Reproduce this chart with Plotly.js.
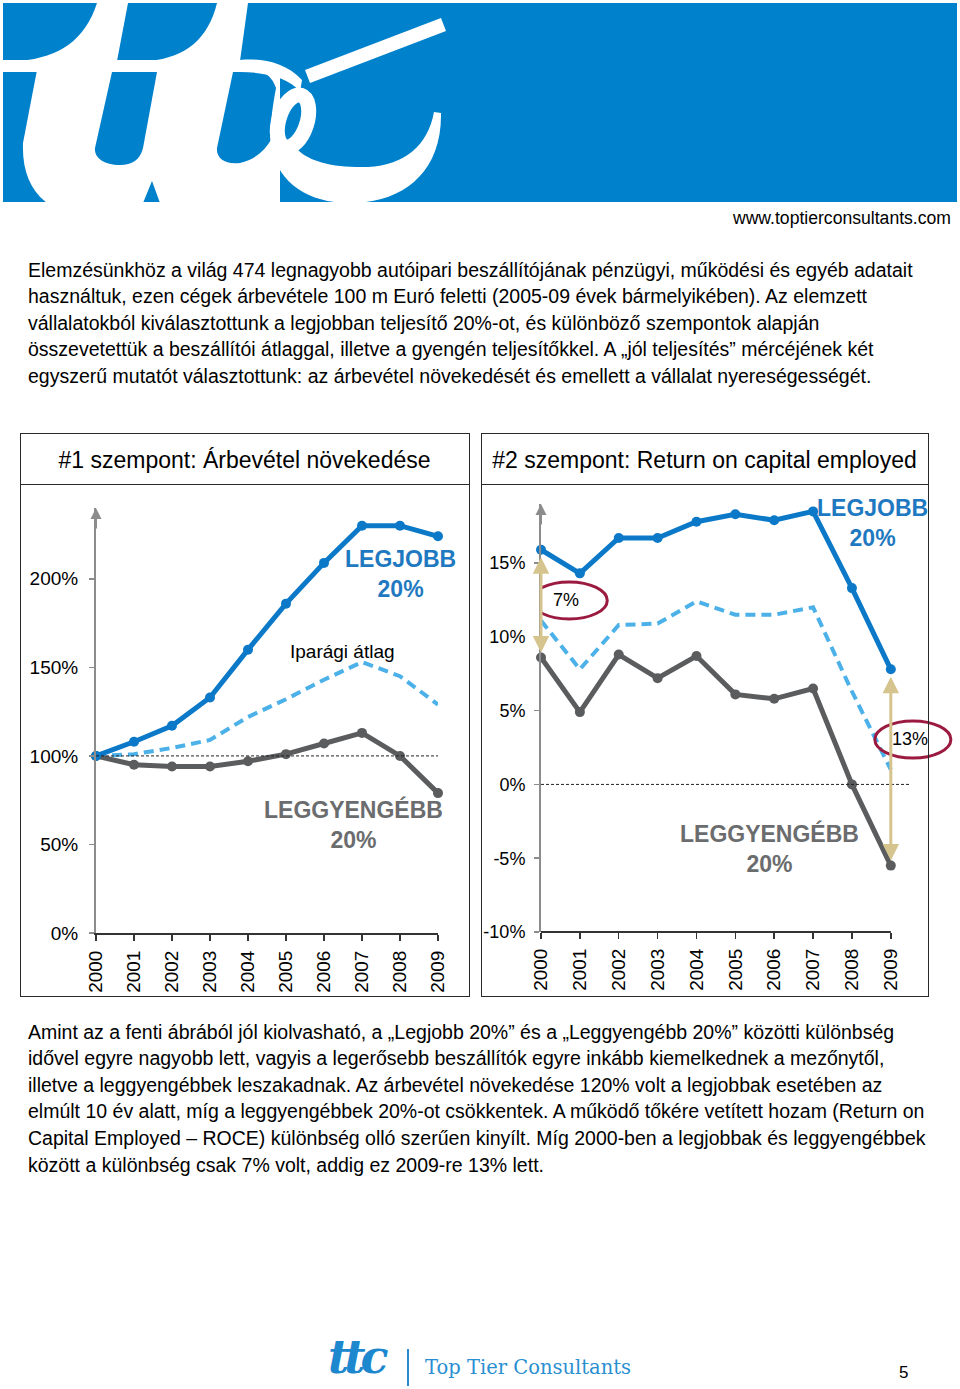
<!DOCTYPE html>
<html>
<head>
<meta charset="utf-8">
<script src="https://cdn.plot.ly/plotly-3.0.1.min.js"></script>
<style>
  html, body { margin:0; padding:0; background:#fff; }
  body { width:960px; height:1389px; position:relative; overflow:hidden; font-family:"Liberation Sans", Arial, sans-serif; color:#000; }
  .abs { position:absolute; }
  .url { right:9px; top:207px; font-size:17.6px; line-height:22px; white-space:nowrap; }
  .para { left:28px; font-size:19.5px; line-height:26.6px; white-space:nowrap; }
  .box { position:absolute; border:1px solid #2a2a2a; box-sizing:border-box; pointer-events:none; }
  .sep { position:absolute; height:0; border-top:1px solid #2a2a2a; pointer-events:none; }
  .flogo { left:328px; top:1334px; font-family:"DejaVu Serif", serif; font-style:italic; font-weight:bold; font-size:46px; line-height:1; color:#1e88cf; letter-spacing:-5px; }
  .fbar { left:407px; top:1349px; width:2px; height:37px; background:#2a8ad0; }
  .fname { left:425px; top:1356px; font-family:"DejaVu Serif", serif; font-size:19.5px; line-height:24px; color:#2a8fd2; white-space:nowrap; }
  .pnum { left:899px; top:1363px; font-size:17px; line-height:20px; }
</style>
</head>
<body>
<svg class="abs" style="left:0;top:0" width="960" height="205" viewBox="0 0 960 205">
  <defs><clipPath id="bandclip"><rect x="3" y="3" width="954" height="199"/></clipPath></defs>
  <rect x="3" y="3" width="954" height="199" fill="#0081cc"/>
  <g clip-path="url(#bandclip)" fill="#fff">
    <rect x="3" y="60" width="240" height="12"/>
    <path d="M97,3 L128,3 L117,61 L20,61 C60,57 85,40 97,3 Z"/>
    <path d="M217,3 L248,3 L240,61 L150,61 C185,57 208,40 217,3 Z"/>
    <path d="M37,70 L280,70 L280,203 L47,203 C30,190 22,170 23,143 Z"/>
    <g fill="#0081cc">
      <path d="M112,72 L157,72 L143,148 C140,160 132,165 120,165 C104,165 94,158 95,148 Z"/>
      <path d="M233,72 L262,72 C270,75 274,82 276,88 C272,110 270,125 271,140 C265,150 255,160 240,163 C225,165 216,158 217,148 Z"/>
      <path d="M143,203 L152,181 L160,203 Z"/>
    </g>
    <path d="M240,60 C262,58 285,62 302,80 L300,92 C290,78 265,72 240,72 Z"/>
    <ellipse cx="293" cy="121" rx="14" ry="27" fill="none" stroke="#fff" stroke-width="15" transform="rotate(18 293 121)"/>
    <path d="M270,135 C272,180 305,203 350,203 C400,203 442,175 441,113 L434,112 C428,145 405,165 368,167 C335,168 310,162 298,150 Z"/>
    <path d="M305,70 L441,18 L446,31 L310,83 Z"/>
  </g>
</svg>
<div class="abs url">www.toptierconsultants.com</div>

<div class="abs para" style="top:256.7px">
Elemzésünkhöz a világ 474 legnagyobb autóipari beszállítójának pénzügyi, működési és egyéb adatait<br>
használtuk, ezen cégek árbevétele 100 m Euró feletti (2005-09 évek bármelyikében). Az elemzett<br>
vállalatokból kiválasztottunk a legjobban teljesítő 20%-ot, és különböző szempontok alapján<br>
összevetettük a beszállítói átlaggal, illetve a gyengén teljesítőkkel. A „jól teljesítés” mércéjének két<br>
egyszerű mutatót választottunk: az árbevétel növekedését és emellett a vállalat nyereségességét.
</div>

<div id="chart1" class="abs" style="left:21px;top:434px;width:447px;height:562px"></div>
<div id="chart2" class="abs" style="left:482px;top:434px;width:478px;height:562px"></div>
<div class="box" style="left:20px;top:433px;width:450px;height:564px"></div>
<div class="sep" style="left:20px;top:484px;width:450px"></div>
<div class="box" style="left:481px;top:433px;width:448px;height:564px"></div>
<div class="sep" style="left:481px;top:484px;width:448px"></div>

<div class="abs para" style="top:1018.7px">
Amint az a fenti ábrából jól kiolvasható, a „Legjobb 20%” és a „Leggyengébb 20%” közötti különbség<br>
idővel egyre nagyobb lett, vagyis a legerősebb beszállítók egyre inkább kiemelkednek a mezőnytől,<br>
illetve a leggyengébbek leszakadnak. Az árbevétel növekedése 120% volt a legjobbak esetében az<br>
elmúlt 10 év alatt, míg a leggyengébbek 20%-ot csökkentek. A működő tőkére vetített hozam (Return on<br>
Capital Employed – ROCE) különbség olló szerűen kinyílt. Míg 2000-ben a legjobbak és leggyengébbek<br>
között a különbség csak 7% volt, addig ez 2009-re 13% lett.
</div>

<div class="abs flogo">ttc</div>
<div class="abs fbar"></div>
<div class="abs fname">Top Tier Consultants</div>
<div class="abs pnum">5</div>

<script>
// ---------- data ----------
const years = [2000, 2001, 2002, 2003, 2004, 2005, 2006, 2007, 2008, 2009];
const yearLabels = ['2000','2001','2002','2003','2004','2005','2006','2007','2008','2009'];

// Chart 1: revenue growth index (2000 = 100%)
const revBest  = [100, 108, 117, 133, 160, 186, 209, 230, 230, 224];
const revAvg   = [100, 101, 104.5, 109, 122, 132, 143, 153, 145, 129];
const revWorst = [100, 95, 94, 94, 97, 101, 107, 113, 100, 79];
const revTickVals = [0, 50, 100, 150, 200];
const revTickText = ['0%', '50%', '100%', '150%', '200%'];
const revBaseline = 100;

// Chart 2: return on capital employed (%)
const roceBest  = [15.9, 14.3, 16.7, 16.7, 17.8, 18.3, 17.9, 18.5, 13.3, 7.8];
const roceAvg   = [11.1, 7.8, 10.8, 10.9, 12.4, 11.5, 11.5, 12.0, 6.3, 1.0];
const roceWorst = [8.6, 4.9, 8.8, 7.2, 8.7, 6.1, 5.8, 6.5, 0.0, -5.5];
const roceTickVals = [-10, -5, 0, 5, 10, 15];
const roceTickText = ['-10%', '-5%', '0%', '5%', '10%', '15%'];
const roceBaseline = 0;

const title1 = '#1 szempont: Árbevétel növekedése';
const title2 = '#2 szempont: Return on capital employed';

// ---------- styles ----------
const C_BEST = '#0b79c8';
const C_AVG = '#4cb1e8';
const C_WORST = '#5b5c5e';
const C_BEST_TXT = '#1f79c1';
const C_WORST_TXT = '#6b6c6e';
const C_TAN = '#d6c48e';
const C_RING = '#9b1b40';
const FONT = 'Liberation Sans, Arial, sans-serif';

function solid(x, y, color) {
  return { x: x, y: y, type: 'scatter', mode: 'lines+markers', cliponaxis: false,
    line: { color: color, width: 5 }, marker: { color: color, size: 10 }, hoverinfo: 'skip' };
}
function dashed(x, y, color) {
  return { x: x, y: y, type: 'scatter', mode: 'lines', cliponaxis: false,
    line: { color: color, width: 4, dash: '10px,6px' }, hoverinfo: 'skip' };
}
function baseAxisY(range, vals, text, standoff, fsize) {
  return { range: range, tickvals: vals, ticktext: text, ticks: 'outside', ticklen: 5,
    tickcolor: '#8c8c8c', tickwidth: 1.5, showline: true, linecolor: '#8c8c8c', linewidth: 2,
    showgrid: false, zeroline: false, tickfont: { size: fsize, color: '#000', family: FONT },
    ticklabelstandoff: standoff, fixedrange: true };
}
function xAxis(range, showline) {
  return { range: range, tickvals: years, ticktext: yearLabels, tickangle: -90,
    ticks: 'outside', ticklen: 6, tickcolor: '#333', tickwidth: 1.5, showline: showline, linecolor: '#333', linewidth: 2,
    showgrid: false, zeroline: false, tickfont: { size: 19, color: '#000', family: FONT }, ticklabelstandoff: 2, fixedrange: true };
}
function yArrow(xv, yv) {
  return { x: xv, y: yv, xref: 'x', yref: 'y', text: '', showarrow: true, ax: 0, ay: 22,
    arrowhead: 2, arrowsize: 1.1, arrowwidth: 2, arrowcolor: '#8c8c8c', standoff: 0 };
}
function label(xv, yv, txt, color, size, bold) {
  return { x: xv, y: yv, xref: 'x', yref: 'y', text: bold ? '<b>' + txt + '</b>' : txt,
    showarrow: false, font: { size: size, color: color, family: FONT }, xanchor: 'center', yanchor: 'middle' };
}
function gap(xv, yTop, yBottom) {
  return { x: xv, y: yBottom, ax: xv, ay: yTop, xref: 'x', yref: 'y', axref: 'x', ayref: 'y',
    text: '', showarrow: true, arrowside: 'end+start', arrowhead: 2, startarrowhead: 2,
    arrowsize: 1.1, startarrowsize: 1.1, arrowwidth: 3, arrowcolor: C_TAN, standoff: 5, startstandoff: 6 };
}
function ring(xv, yv) {
  return { type: 'circle', xref: 'x', yref: 'y', xsizemode: 'pixel', ysizemode: 'pixel',
    xanchor: xv, yanchor: yv, x0: -35, x1: 41, y0: -19, y1: 18,
    line: { color: C_RING, width: 3 }, fillcolor: 'rgba(0,0,0,0)' };
}
function titleObj(text, xc) {
  return { text: text, font: { size: 23, color: '#000', family: FONT },
    x: xc, xref: 'container', xanchor: 'center', y: 1 - 26 / 562, yref: 'container', yanchor: 'middle' };
}
const config = { staticPlot: true, displayModeBar: false };
const last = years.length - 1;

// ---------- chart 1 ----------
const layout1 = {
  width: 447, height: 562,
  margin: { l: 75, r: 30, t: 74, b: 63 },
  paper_bgcolor: 'rgba(0,0,0,0)', plot_bgcolor: 'rgba(0,0,0,0)',
  showlegend: false,
  font: { family: FONT, color: '#000' },
  title: titleObj(title1, 0.5),
  xaxis: xAxis([years[0], years[last]], true),
  yaxis: baseAxisY([0, 240], revTickVals, revTickText, 7, 19),
  shapes: [
    { type: 'line', xref: 'x', yref: 'y', x0: years[0], x1: years[last], y0: revBaseline, y1: revBaseline,
      line: { color: '#222', width: 1, dash: '3px,2px' } }
  ],
  annotations: [
    yArrow(years[0], 240),
    label(2008.0, 203, 'LEGJOBB<br>20%', C_BEST_TXT, 23, true),
    label(2006.49, 159, 'Iparági átlag', '#000', 19, false),
    label(2006.78, 61.5, 'LEGGYENGÉBB<br>20%', C_WORST_TXT, 23, true)
  ]
};
Plotly.newPlot('chart1', [
  dashed(years, revAvg, C_AVG),
  solid(years, revWorst, C_WORST),
  solid(years, revBest, C_BEST)
], layout1, config);

// ---------- chart 2 ----------
const layout2 = {
  width: 478, height: 562,
  margin: { l: 59, r: 7, t: 70, b: 64 },
  paper_bgcolor: 'rgba(0,0,0,0)', plot_bgcolor: 'rgba(0,0,0,0)',
  showlegend: false,
  font: { family: FONT, color: '#000' },
  title: titleObj(title2, (704.5 - 482) / 478),
  xaxis: xAxis([years[0], 2010.6], false),
  yaxis: baseAxisY([-10, 19], roceTickVals, roceTickText, 5, 18),
  shapes: [
    { type: 'line', xref: 'x', yref: 'paper', x0: years[0], x1: years[last], y0: 0, y1: 0,
      line: { color: '#333', width: 2 } },
    { type: 'line', xref: 'x', yref: 'y', x0: years[0], x1: years[last] + 0.5, y0: roceBaseline, y1: roceBaseline,
      line: { color: '#222', width: 1, dash: '3px,2px' } },
    ring(2000.65, 12.5),
    ring(2009.49, 3.08)
  ],
  annotations: [
    yArrow(years[0], 19),
    gap(years[0], roceBest[0], roceWorst[0]),
    gap(years[last], roceBest[last], roceWorst[last]),
    label(2008.52, 17.7, 'LEGJOBB<br>20%', C_BEST_TXT, 23, true),
    label(2005.87, -4.37, 'LEGGYENGÉBB<br>20%', C_WORST_TXT, 23, true),
    label(2000.65, 12.5, '7%', '#000', 18, false),
    label(2009.49, 3.08, '13%', '#000', 18, false)
  ]
};
Plotly.newPlot('chart2', [
  dashed(years, roceAvg, C_AVG),
  solid(years, roceWorst, C_WORST),
  solid(years, roceBest, C_BEST)
], layout2, config);
</script>
</body>
</html>
